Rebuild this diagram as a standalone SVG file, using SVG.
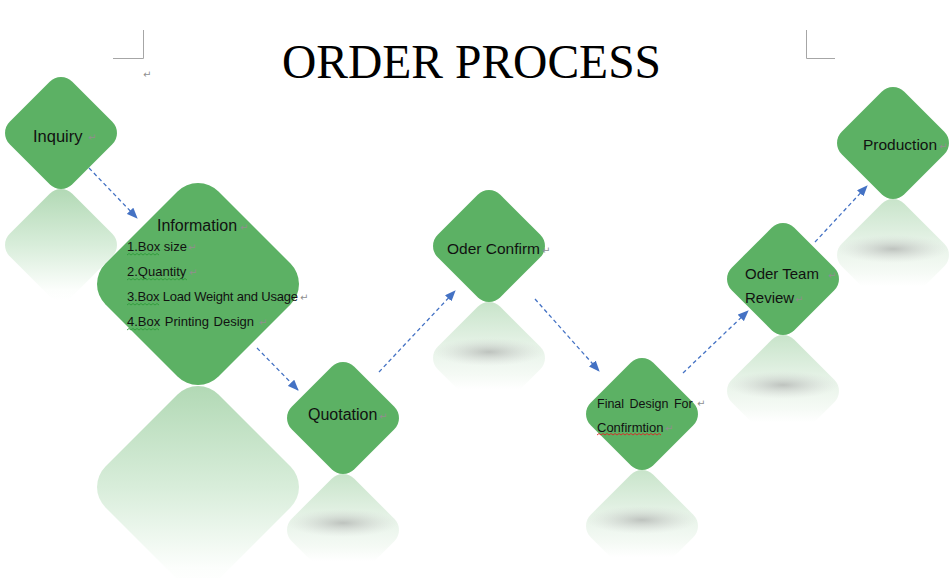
<svg xmlns="http://www.w3.org/2000/svg" xmlns:xlink="http://www.w3.org/1999/xlink" width="950" height="578" viewBox="0 0 950 578">
<style>
.g{fill:#5cb164}
.rl{fill:url(#gradL)}
.rs{fill:url(#gradS)}
.sh{fill:url(#shadow)}
.t{font-family:"Liberation Sans",Arial,sans-serif;fill:#111}
.pm{font-family:"DejaVu Sans",sans-serif;font-size:10px;fill:#8f8f8f}
.cn{stroke:#4472c4;stroke-width:1.3;stroke-dasharray:4 3;fill:none;marker-end:url(#ah)}
.crop{stroke:#a6a6a6;stroke-width:1;fill:none}
.sqg{stroke:#2f9a3a;stroke-width:0.9;fill:none}
.sqr{stroke:#e02525;stroke-width:0.9;fill:none}
</style>
<defs>
<path id="S" d="M-11.3,-51.3A16,16 0 0 1 11.3,-51.3L51.3,-11.3A16,16 0 0 1 51.3,11.3L11.3,51.3A16,16 0 0 1 -11.3,51.3L-51.3,11.3A16,16 0 0 1 -51.3,-11.3Z"/>
<path id="L" d="M-20.5,-92.5A29,29 0 0 1 20.5,-92.5L92.5,-20.5A29,29 0 0 1 92.5,20.5L20.5,92.5A29,29 0 0 1 -20.5,92.5L-92.5,20.5A29,29 0 0 1 -92.5,-20.5Z"/>
<linearGradient id="gradL" x1="0" y1="0" x2="0" y2="1">
<stop offset="0" stop-color="#b2d9b5"/>
<stop offset="0.5" stop-color="#d8edda"/>
<stop offset="0.9" stop-color="#fcfefc"/>
<stop offset="1" stop-color="#ffffff"/>
</linearGradient>
<linearGradient id="gradS" x1="0" y1="0" x2="0" y2="1">
<stop offset="0" stop-color="#c8e4ca"/>
<stop offset="0.4" stop-color="#e7f3e8"/>
<stop offset="0.65" stop-color="#f5faf5"/>
<stop offset="0.78" stop-color="#ffffff"/>
</linearGradient>
<radialGradient id="shadow" cx="0.5" cy="0.5" r="0.5">
<stop offset="0" stop-color="#9a9a9a" stop-opacity="0.55"/>
<stop offset="0.6" stop-color="#b5b5b5" stop-opacity="0.22"/>
<stop offset="1" stop-color="#cccccc" stop-opacity="0"/>
</radialGradient>
<marker id="ah" markerUnits="userSpaceOnUse" markerWidth="11" markerHeight="9" refX="10" refY="4.5" orient="auto">
<path d="M0,0 L11,4.5 L0,9 Z" fill="#4472c4"/>
</marker>
</defs>
<rect width="950" height="578" fill="#ffffff"/>

<g id="page-marks">
<path class="crop" d="M143.5,30 V58.5 H113"/>
<path class="crop" d="M806.5,30 V58.5 H835"/>
<text class="pm" x="143" y="78">↵</text>
</g>

<g id="title">
<text x="282" y="78" font-family="'Liberation Serif','Times New Roman',serif" font-size="48" fill="#000" textLength="379" lengthAdjust="spacingAndGlyphs">ORDER PROCESS</text>
</g>

<g id="reflections">
<use xlink:href="#S" href="#S" class="rl" transform="translate(61,245)"/>
<use xlink:href="#L" href="#L" class="rl" transform="translate(198,487)"/>
<use xlink:href="#S" href="#S" class="rs" transform="translate(343,530)"/>
<ellipse class="sh" cx="343" cy="523" rx="56" ry="14"/>
<use xlink:href="#S" href="#S" class="rs" transform="translate(489,358)"/>
<ellipse class="sh" cx="489" cy="352" rx="56" ry="14"/>
<use xlink:href="#S" href="#S" class="rs" transform="translate(642,526)"/>
<ellipse class="sh" cx="642" cy="520" rx="56" ry="14"/>
<use xlink:href="#S" href="#S" class="rs" transform="translate(783,391)"/>
<ellipse class="sh" cx="783" cy="385" rx="56" ry="14"/>
<use xlink:href="#S" href="#S" class="rs" transform="translate(893,255)"/>
<ellipse class="sh" cx="893" cy="249" rx="56" ry="14"/>
</g>

<g id="connectors">
<path class="cn" d="M89,168 L137,218"/>
<path class="cn" d="M257,348 L298,390"/>
<path class="cn" d="M379,372 L455,291"/>
<path class="cn" d="M535,299 L599,371"/>
<path class="cn" d="M683,373 L748,311"/>
<path class="cn" d="M815,242 L867,186"/>
</g>

<g id="inquiry">
<use xlink:href="#S" href="#S" class="g" transform="translate(61,133)"/>
<text class="t" x="33" y="142" font-size="16.5">Inquiry</text>
<text class="pm" x="88" y="141">↵</text>
</g>

<g id="information">
<use xlink:href="#L" href="#L" class="g" transform="translate(198,284)"/>
<text class="t" x="157" y="231" font-size="16">Information</text>
<text class="pm" x="240" y="231">↵</text>
<text class="t" x="127" y="251" font-size="13">1.Box size</text>
<text class="pm" x="188" y="251">↵</text>
<text class="t" x="127" y="276" font-size="13">2.Quantity</text>
<text class="pm" x="189" y="276">↵</text>
<text class="t" x="127" y="301" font-size="13" textLength="171" lengthAdjust="spacing">3.Box Load Weight and Usage</text>
<text class="pm" x="300" y="301">↵</text>
<text class="t" x="127" y="326" font-size="13" word-spacing="1">4.Box Printing Design</text>
<text class="pm" x="259" y="326">↵</text>
<path class="sqg" d="M127,255l2,-1.5l2,1.5l2,-1.5l2,1.5l2,-1.5l2,1.5l2,-1.5l2,1.5l2,-1.5l2,1.5l2,-1.5l2,1.5l2,-1.5l2,1.5l2,-1.5l2,1.5"/>
<path class="sqg" d="M127,280l2,-1.5l2,1.5l2,-1.5l2,1.5l2,-1.5l2,1.5l2,-1.5l2,1.5l2,-1.5l2,1.5l2,-1.5l2,1.5l2,-1.5l2,1.5l2,-1.5l2,1.5l2,-1.5l2,1.5l2,-1.5l2,1.5l2,-1.5l2,1.5l2,-1.5l2,1.5l2,-1.5l2,1.5l2,-1.5l2,1.5l2,-1.5l2,1.5"/>
<path class="sqg" d="M127,305l2,-1.5l2,1.5l2,-1.5l2,1.5l2,-1.5l2,1.5l2,-1.5l2,1.5l2,-1.5l2,1.5l2,-1.5l2,1.5l2,-1.5l2,1.5l2,-1.5l2,1.5"/>
<path class="sqg" d="M127,330l2,-1.5l2,1.5l2,-1.5l2,1.5l2,-1.5l2,1.5l2,-1.5l2,1.5l2,-1.5l2,1.5l2,-1.5l2,1.5l2,-1.5l2,1.5l2,-1.5l2,1.5"/>
</g>

<g id="quotation">
<use xlink:href="#S" href="#S" class="g" transform="translate(343,418)"/>
<text class="t" x="308" y="420" font-size="16">Quotation</text>
<text class="pm" x="379" y="420">↵</text>
</g>

<g id="oder-confirm">
<use xlink:href="#S" href="#S" class="g" transform="translate(489,246)"/>
<text class="t" x="447" y="254" font-size="15.5">Oder Confirm</text>
<text class="pm" x="542" y="254">↵</text>
</g>

<g id="final-design">
<use xlink:href="#S" href="#S" class="g" transform="translate(642,414)"/>
<text class="t" x="597" y="408" font-size="12.5" word-spacing="2">Final Design For</text>
<text class="pm" x="697" y="407">↵</text>
<text class="t" x="597" y="432" font-size="13">Confirmtion</text>
<text class="pm" x="665" y="432">↵</text>
<path class="sqr" d="M597,435l2,-1.5l2,1.5l2,-1.5l2,1.5l2,-1.5l2,1.5l2,-1.5l2,1.5l2,-1.5l2,1.5l2,-1.5l2,1.5l2,-1.5l2,1.5l2,-1.5l2,1.5l2,-1.5l2,1.5l2,-1.5l2,1.5l2,-1.5l2,1.5l2,-1.5l2,1.5l2,-1.5l2,1.5l2,-1.5l2,1.5l2,-1.5l2,1.5l2,-1.5l2,1.5"/>
</g>

<g id="oder-team-review">
<use xlink:href="#S" href="#S" class="g" transform="translate(783,279)"/>
<text class="t" x="745" y="279" font-size="15">Oder Team</text>
<text class="pm" x="828" y="279">↵</text>
<text class="t" x="745" y="303" font-size="15">Review</text>
<text class="pm" x="795" y="303">↵</text>
</g>

<g id="production">
<use xlink:href="#S" href="#S" class="g" transform="translate(893,143)"/>
<text class="t" x="863" y="150" font-size="15.5">Production</text>
<text class="pm" x="939" y="150">↵</text>
</g>
</svg>
